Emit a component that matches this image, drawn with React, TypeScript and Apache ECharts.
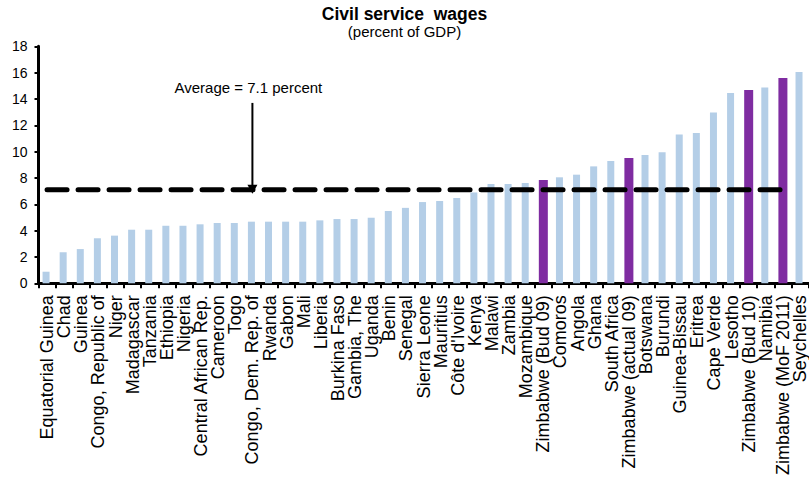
import React, { useEffect, useRef } from "react";
import * as echarts from "echarts";

// Civil service wage bill by country, percent of GDP
const categories: string[] = [
  "Equatorial Guinea", "Chad", "Guinea", "Congo, Republic of", "Niger",
  "Madagascar", "Tanzania", "Ethiopia", "Nigeria", "Central African Rep.",
  "Cameroon", "Togo", "Congo, Dem. Rep. of", "Rwanda", "Gabon",
  "Mali", "Liberia", "Burkina Faso", "Gambia, The", "Uganda",
  "Benin", "Senegal", "Sierra Leone", "Mauritius", "Côte d'Ivoire",
  "Kenya", "Malawi", "Zambia", "Mozambique", "Zimbabwe (Bud 09)",
  "Comoros", "Angola", "Ghana", "South Africa", "Zimbabwe (actual 09)",
  "Botswana", "Burundi", "Guinea-Bissau", "Eritrea", "Cape Verde",
  "Lesotho", "Zimbabwe (Bud 10)", "Namibia", "Zimbabwe (MoF 2011)", "Seychelles",
];

const wages: number[] = [
  0.88, 2.35, 2.6, 3.42, 3.62,
  4.07, 4.07, 4.37, 4.37, 4.48,
  4.58, 4.58, 4.68, 4.68, 4.68,
  4.68, 4.78, 4.88, 4.88, 4.98,
  5.49, 5.73, 6.17, 6.25, 6.48,
  6.9, 7.54, 7.54, 7.62, 7.84,
  8.05, 8.25, 8.88, 9.29, 9.51,
  9.74, 9.95, 11.31, 11.41, 12.98,
  14.45, 14.68, 14.88, 15.59, 16.04,
];

// Zimbabwe estimates are drawn in a highlight colour
const highlighted: string[] = [
  "Zimbabwe (Bud 09)", "Zimbabwe (actual 09)", "Zimbabwe (Bud 10)", "Zimbabwe (MoF 2011)",
];

// Sample average, drawn as a dashed line from the first country to the last Zimbabwe estimate
const averageValue = 7.1;
const averageLastCategory = "Zimbabwe (MoF 2011)";
const averageLabel = "Average = 7.1 percent";

// Annotation arrow placement (category and value units)
const arrowCategory = "Congo, Dem. Rep. of";
const arrowTopValue = 13.7;
const annotationValue = 14.85;

const yTicks = { min: 0, max: 18, interval: 2 };

const FONT = "'Liberation Sans', Arial, Helvetica, sans-serif";
const BLUE = "#b4cee7";
const PURPLE = "#7f2ca1";

export default function App() {
  const ref = useRef<HTMLDivElement>(null);

  useEffect(() => {
    if (!ref.current) return;
    const chart = echarts.init(ref.current, null, { renderer: "svg" });

    const lastAvgIdx = categories.indexOf(averageLastCategory);
    const baseData = wages.map((v, i) => (highlighted.includes(categories[i]) ? "-" : v));
    const highData = wages.map((v, i) => (highlighted.includes(categories[i]) ? v : "-"));
    const avgData = categories.map((_, i) => (i <= lastAvgIdx ? averageValue : "-"));

    chart.setOption({
      animation: false,
      backgroundColor: "#ffffff",
      title: {
        text: "Civil service  wages",
        subtext: "(percent of GDP)",
        left: "center",
        top: 0,
        itemGap: 0,
        textStyle: { fontFamily: FONT, fontSize: 17.5, lineHeight: 18, fontWeight: "bold", color: "#000" },
        subtextStyle: { fontFamily: FONT, fontSize: 15, lineHeight: 16, color: "#000" },
      },
      grid: { left: 38.5, top: 46.3, width: 772, bottom: 199.7, containLabel: false },
      xAxis: {
        type: "category",
        data: categories,
        boundaryGap: true,
        axisLine: { show: true, lineStyle: { color: "#000", width: 3 } },
        axisTick: { show: true, length: 5, lineStyle: { color: "#000", width: 2 } },
        axisLabel: {
          interval: 0,
          rotate: 90,
          margin: 12,
          fontFamily: FONT,
          fontSize: 18,
          color: "#000",
        },
        splitLine: { show: false },
      },
      yAxis: {
        type: "value",
        min: yTicks.min,
        max: yTicks.max,
        interval: yTicks.interval,
        axisLine: { show: true, lineStyle: { color: "#000", width: 3 } },
        axisTick: { show: true, length: 4, lineStyle: { color: "#000", width: 2 } },
        axisLabel: { margin: 11, fontFamily: FONT, fontSize: 14, color: "#000" },
        splitLine: { show: false },
      },
      series: [
        {
          name: "wages",
          type: "bar",
          data: baseData,
          barWidth: 7,
          itemStyle: { color: BLUE },
          z: 2,
        },
        {
          name: "Zimbabwe",
          type: "bar",
          data: highData,
          barWidth: 9,
          barGap: "-100%",
          itemStyle: { color: PURPLE },
          z: 2,
        },
        {
          name: "average",
          type: "line",
          data: avgData,
          symbol: "none",
          connectNulls: false,
          lineStyle: { color: "#000", width: 5, type: [20, 11], cap: "round" },
          z: 5,
        },
      ],
    });

    const [ax, yTop] = chart.convertToPixel({ xAxisIndex: 0, yAxisIndex: 0 }, [arrowCategory, arrowTopValue]) as number[];
    const [, yAvg] = chart.convertToPixel({ xAxisIndex: 0, yAxisIndex: 0 }, [arrowCategory, averageValue]) as number[];
    const [, yText] = chart.convertToPixel({ xAxisIndex: 0, yAxisIndex: 0 }, [arrowCategory, annotationValue]) as number[];
    const tip = yAvg + 4;
    const headLen = 9;

    chart.setOption({
      graphic: [
        {
          type: "line",
          shape: { x1: ax, y1: yTop, x2: ax, y2: tip - headLen + 1 },
          style: { stroke: "#000", lineWidth: 2 },
          z: 10,
        },
        {
          type: "polygon",
          shape: { points: [[ax - 5, tip - headLen], [ax + 5, tip - headLen], [ax, tip]] },
          style: { fill: "#000" },
          z: 10,
        },
        {
          type: "text",
          x: ax - 4,
          y: yText,
          style: {
            text: averageLabel,
            fontFamily: FONT,
            fontSize: 15,
            fill: "#000",
            textAlign: "center",
            textVerticalAlign: "middle",
          },
          z: 10,
        },
      ],
    });

    return () => chart.dispose();
  }, []);

  return (
    <div
      ref={ref}
      style={{ position: "absolute", left: 0, top: 0, width: 809, height: 483, background: "#fff" }}
    />
  );
}
